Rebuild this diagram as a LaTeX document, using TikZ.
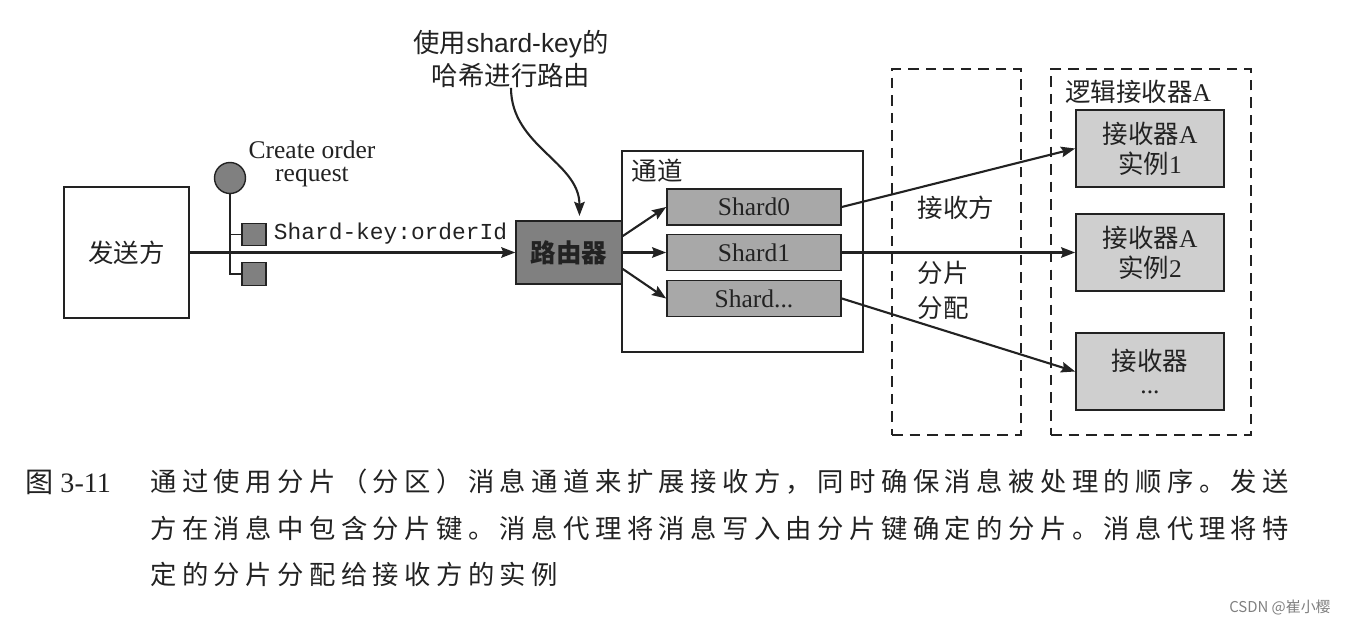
\documentclass[tikz,border=0pt]{standalone}
\usepackage{fontspec}
\usetikzlibrary{arrows.meta}
\setmainfont{Liberation Serif}
\setsansfont{Liberation Sans}
\setmonofont{Liberation Mono}
\newfontfamily\cjk{Noto Sans CJK SC}
\newfontfamily\cjkspaced[LetterSpace=20.6]{Noto Sans CJK SC}
\newcommand{\bigtext}{\fontsize{14.5}{17}\selectfont}
\definecolor{inkcolor}{HTML}{222222}
\definecolor{routercolor}{HTML}{808080}
\definecolor{shardcolor}{HTML}{A8A8A8}
\definecolor{receivercolor}{HTML}{CFCFCF}
\tikzset{
	box/.style={draw=inkcolor, line width=0.8pt, inner sep=0pt, align=center, font=\bigtext, text=inkcolor},
	senderbox/.style={box, minimum width=2.5cm, minimum height=2.62cm},
	routerbox/.style={box, fill=routercolor, minimum width=2.12cm, minimum height=1.26cm},
	shardbox/.style={box, fill=shardcolor, minimum width=3.48cm, minimum height=0.72cm, line width=1pt},
	receiverbox/.style={box, fill=receivercolor, minimum width=2.96cm, minimum height=1.54cm, line width=1pt},
	dashbox/.style={box, dashed, dash pattern=on 6pt off 4pt},
	keybox/.style={box, fill=routercolor, minimum width=0.48cm, minimum height=0.45cm},
	txt/.style={inner sep=0pt, align=center, font=\bigtext, text=inkcolor},
	captxt/.style={inner sep=0pt, anchor=west, text=inkcolor, font=\fontsize{15}{17}\selectfont\cjkspaced},
	conn/.style={draw=inkcolor, line width=1.2pt, -{Stealth[length=8pt,width=6pt,inset=1.2pt]}}
}
\begin{document}
\begin{tikzpicture}[x=0.02cm, y=-0.02cm]
	\useasboundingbox ( 0, 0 ) rectangle ( 1346, 624 );

	% пунктирные рамки
	\node [dashbox, minimum width=2.58cm, minimum height=7.32cm] (assign) at ( 956.5, 252 ) {};
	\node [dashbox, minimum width=4.00cm, minimum height=7.32cm] (logical) at ( 1151, 252 ) {};
	\node [txt] (logicaltext) at ( 1138, 92 ) {{\cjk 逻辑接收器}A};

	% 发送方
	\node [senderbox] (sender) at ( 126.5, 252.5 ) {\cjk 发送方};

	% 消息
	\node [circle, draw=inkcolor, fill=routercolor, line width=0.8pt, minimum size=0.62cm, inner sep=0pt] (msgcircle) at ( 230, 178 ) {};
	\node [keybox] (keya) at ( 254, 234.5 ) {};
	\node [keybox] (keyb) at ( 254, 274 ) {};
	\node [txt] (msgtext) at ( 312, 164 ) {Create order\\[-4pt]request};
	\node [txt, font=\fontsize{13}{16}\selectfont\ttfamily] (keytext) at ( 390.5, 234 ) {Shard-key:orderId};
	\draw [draw=inkcolor, line width=0.8pt] (msgcircle.south) |- (keyb.west);
	\draw [draw=inkcolor, line width=0.8pt] (keya.west) -- (keya.west -| msgcircle.south);

	% 路由器
	\node [routerbox, font=\bigtext\cjk\bfseries] (router) at ( 569, 252.5 ) {路由器};
	\node [txt, font=\fontsize{15}{18.5}\selectfont\sffamily] (hashtext) at ( 511, 59 ) {{\cjk 使用}shard-key{\cjk 的}\\{\cjk 哈希进行路由}};
	\draw [conn, shorten >=2.5pt] (hashtext.south) to [ out = -90, in = 90 ] (router.72);
	\draw [conn] (sender.east) -- (router.west);

	% 通道
	\node [box, minimum width=4.82cm, minimum height=4.02cm] (channel) at ( 742.5, 251.5 ) {};
	\node [txt] (channeltext) at ( 657, 171 ) {\cjk 通道};
	\node [shardbox] (shard0) at ( 754, 207 ) {Shard0};
	\node [shardbox] (shard1) at ( 754, 252.5 ) {Shard1};
	\node [shardbox] (shardn) at ( 754, 298.5 ) {Shard...};
	\draw [conn] (router.17) -- (shard0.west);
	\draw [conn] (router.east) -- (shard1.west);
	\draw [conn] (router.-17) -- (shardn.west);

	% 接收器
	\node [receiverbox] (recv1) at ( 1150, 148.5 ) {{\cjk 接收器}A\\{\cjk 实例}1};
	\node [receiverbox] (recv2) at ( 1150, 252.5 ) {{\cjk 接收器}A\\{\cjk 实例}2};
	\node [receiverbox] (recvn) at ( 1150, 371.5 ) {{\cjk 接收器}\\[-4pt]...};
	\draw [conn] (shard0.east) -- (recv1.west);
	\draw [conn] (shard1.east) -- (recv2.west);
	\draw [conn] (shardn.east) -- (recvn.west);

	% 接收方分片分配
	\node [txt] (assigntop) at ( 956, 208 ) {\cjk 接收方};
	\node [txt] (assignmid) at ( 943, 273 ) {\cjk 分片};
	\node [txt] (assignlow) at ( 943, 308 ) {\cjk 分配};

	% 图注
	\node [captxt, font=\fontsize{16}{17}\selectfont] (capnum) at ( 25, 482 ) {{\cjk 图} 3-11};
	\node [captxt] (capa) at ( 150, 482 ) {通过使用分片（分区）消息通道来扩展接收方，同时确保消息被处理的顺序。发送};
	\node [captxt] (capb) at ( 150, 528 ) {方在消息中包含分片键。消息代理将消息写入由分片键确定的分片。消息代理将特};
	\node [captxt] (capc) at ( 150, 574 ) {定的分片分配给接收方的实例};
	\node [inner sep=0pt, anchor=east, text=gray, font=\fontsize{8.5}{10}\selectfont\cjk] (mark) at ( 1331, 608 ) {CSDN @崔小樱};
\end{tikzpicture}
\end{document}
